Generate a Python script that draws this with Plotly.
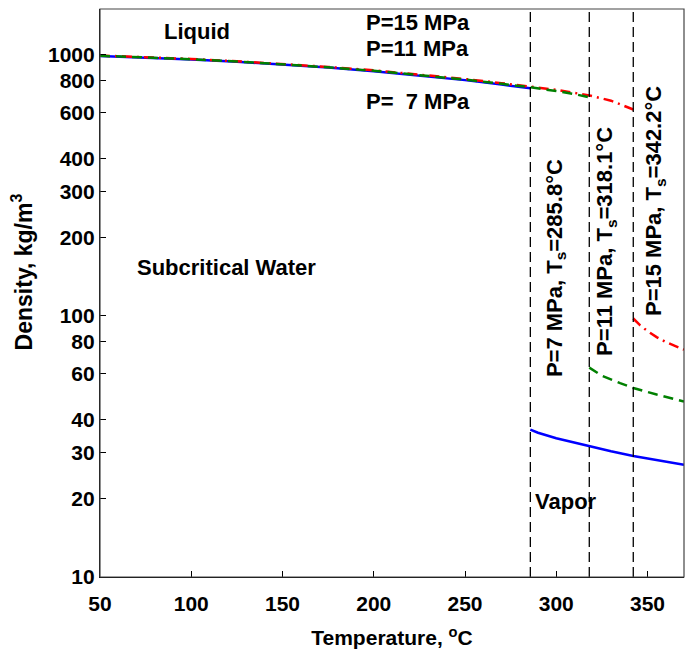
import math
import plotly.graph_objects as go

# Liquid branch (T in °C, density kg/m3)
T_liq_7 = [50, 75, 100, 125, 150, 175, 200, 225, 250, 270, 285.8]
rho_liq_7 = [991, 978, 961, 942, 920, 895, 867, 836, 801, 770, 745]
T_liq_11 = [50, 75, 100, 125, 150, 175, 200, 225, 250, 270, 285.8, 300, 310, 318.1]
rho_liq_11 = [993, 980, 963, 944, 922, 897, 870, 839, 805, 775, 752, 727, 708, 688]
T_liq_15 = [50, 75, 100, 125, 150, 175, 200, 225, 250, 270, 285.8, 300, 318.1, 330, 342.2]
rho_liq_15 = [995, 982, 965, 946, 925, 900, 873, 843, 809, 780, 758, 735, 700, 668, 618]

# Vapor branch
T_vap_7 = [285.8, 290, 300, 310, 318.1, 330, 342.2, 355, 370]
rho_vap_7 = [36.7, 35.7, 34.0, 32.7, 31.6, 30.3, 29.1, 28.0, 26.9]
T_vap_11 = [318.1, 325, 335, 342.2, 355, 370]
rho_vap_11 = [63.4, 59.0, 55.3, 53.0, 50.0, 47.0]
T_vap_15 = [342.2, 346, 350, 355, 360, 365, 370]
rho_vap_15 = [97.8, 92.0, 87.5, 83.0, 79.5, 76.8, 74.3]

T_sat = [285.8, 318.1, 342.2]
sat_labels = ["P=7 MPa, T<sub>s</sub>=285.8°C",
              "P=11 MPa, T<sub>s</sub>=318.1°C",
              "P=15 MPa, T<sub>s</sub>=342.2°C"]
sat_label_x = [299.5, 327.5, 354.5]
sat_label_y = [153, 193, 275]

y_tickvals = [10, 20, 30, 40, 60, 80, 100, 200, 300, 400, 600, 800, 1000]
x_tickvals = [50, 100, 150, 200, 250, 300, 350]

FONT = "Liberation Sans, Arial, sans-serif"

fig = go.Figure()

blue = dict(color="#0000ff", width=2.5)
red = dict(color="#ff0000", width=2.5, dash="10px,5px,2px,5px")
green = dict(color="#008000", width=2.5, dash="10px,6px")

fig.add_trace(go.Scatter(x=T_liq_7, y=rho_liq_7, mode="lines", line=blue, showlegend=False))
fig.add_trace(go.Scatter(x=T_vap_7, y=rho_vap_7, mode="lines", line=blue, showlegend=False))
fig.add_trace(go.Scatter(x=T_liq_15, y=rho_liq_15, mode="lines", line=red, showlegend=False))
fig.add_trace(go.Scatter(x=T_vap_15, y=rho_vap_15, mode="lines", line=red, showlegend=False))
fig.add_trace(go.Scatter(x=T_liq_11, y=rho_liq_11, mode="lines", line=green, showlegend=False))
fig.add_trace(go.Scatter(x=T_vap_11, y=rho_vap_11, mode="lines", line=green, showlegend=False))

for t in T_sat:
    fig.add_shape(type="line", xref="x", yref="paper", x0=t, x1=t, y0=0, y1=1,
                  line=dict(color="black", width=1.3, dash="10px,5px"))

fig.add_shape(type="rect", xref="paper", yref="paper", x0=0, x1=1, y0=0, y1=1,
              line=dict(color="#444", width=1.2))

afont = dict(family=FONT, size=22, color="black", weight="bold")

def ann(text, x, y, **kw):
    fig.add_annotation(text=text, x=x, y=math.log10(y), xref="x", yref="y",
                       showarrow=False, font=afont, **kw)

ann("Liquid", 103, 1225)
ann("P=15 MPa", 224, 1330)
ann("P=11 MPa", 224, 1055)
ann("P=  7 MPa", 224, 666)
ann("Subcritical Water", 119.5, 153.5)
ann("Vapor", 305.5, 19.4)
for txt, xx, yy in zip(sat_labels, sat_label_x, sat_label_y):
    ann(txt, xx, yy, textangle=-90)

# y-axis title placed as paper annotation
fig.add_annotation(text="Density, kg/m<sup>3</sup>", xref="paper", yref="paper",
                   x=-0.162, y=0.537, showarrow=False, textangle=-90,
                   font=dict(family=FONT, size=23, color="black", weight="bold"))

tickfont = dict(family=FONT, size=21, color="black", weight="bold")

fig.update_xaxes(range=[50, 370], tickvals=x_tickvals, ticks="inside", ticklen=6,
                 tickcolor="black", showline=True, linecolor="black", linewidth=1.2,
                 showgrid=False, zeroline=False, tickfont=tickfont, ticklabelstandoff=8,
                 title=dict(text="Temperature, <sup>o</sup>C",
                            font=dict(family=FONT, size=21, color="black", weight="bold"),
                            standoff=16))
fig.update_yaxes(type="log", range=[1, math.log10(1500)], tickvals=y_tickvals,
                 ticktext=[str(v) for v in y_tickvals], ticks="inside", ticklen=6,
                 tickcolor="black", showline=True, linecolor="black", linewidth=1.2,
                 showgrid=False, zeroline=False, tickfont=tickfont)

fig.update_layout(width=689, height=656, margin=dict(l=100, r=5, t=9, b=79),
                  plot_bgcolor="white", paper_bgcolor="white")

fig.write_html("out.html")
